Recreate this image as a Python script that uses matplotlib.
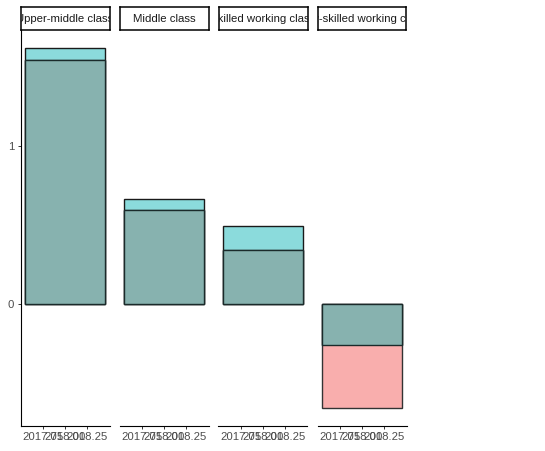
import matplotlib
matplotlib.use('Agg')
import matplotlib.pyplot as plt
import numpy as np

classes = ['Upper-middle class', 'Middle class', 'Skilled working class',
           'Low-skilled working class']
year = 2018
teal_vals = [1.625, 0.665, 0.494, -0.26]
red_vals = [1.55, 0.595, 0.342, -0.658]
xticks = [2017.75, 2018.00, 2018.25]
xticklabels = ['2017.75', '2018.00', '2018.25']
yticks = [0, 1]

plt.rcParams['font.family'] = ['Liberation Sans', 'DejaVu Sans']

W, H = 545, 451
fig = plt.figure(figsize=(W / 100, H / 100), dpi=100)

allv = teal_vals + red_vals + [0]
ylo, yhi = min(allv), max(allv)
pad = 0.05 * (yhi - ylo)

for i, name in enumerate(classes):
    left = 20.5 + 99 * i
    ax = fig.add_axes([left / W, (H - 425.5) / H, 89 / W, 395.5 / H])
    t, r = teal_vals[i], red_vals[i]
    if np.sign(t) == np.sign(r):
        ov = np.sign(t) * min(abs(t), abs(r))
    else:
        ov = 0
    ax.bar(year, t, width=0.9, color='#8BDBDC', edgecolor='#1a1a1a', lw=1.0)
    ax.bar(year, r, width=0.9, color='#F9AEAD', edgecolor='#333333', lw=1.0)
    ax.bar(year, ov, width=0.9, color='#87B2AF', edgecolor='#1a2a2a', lw=1.0)

    ax.set_xlim(year - 0.495, year + 0.495)
    ax.set_ylim(ylo - pad, yhi + pad)
    ax.set_xticks(xticks)
    ax.set_xticklabels(xticklabels)
    ax.tick_params(axis='x', length=2.5, width=0.7, color='#333333',
                   labelcolor='#4D4D4D', labelsize=8.2, pad=2)
    for s in ['top', 'right']:
        ax.spines[s].set_visible(False)
    ax.spines['bottom'].set_linewidth(0.8)
    if i == 0:
        ax.set_yticks(yticks)
        ax.set_yticklabels([str(v) for v in yticks])
        ax.tick_params(axis='y', length=2.5, width=0.7, color='#333333',
                       labelcolor='#4D4D4D', labelsize=8.2, pad=2)
        ax.spines['left'].set_linewidth(0.8)
    else:
        ax.set_yticks([])
        ax.spines['left'].set_visible(False)

    sax = fig.add_axes([left / W, (H - 30) / H, 89 / W, 23 / H])
    sax.set_xticks([])
    sax.set_yticks([])
    for s in sax.spines.values():
        s.set_linewidth(1.1)
        s.set_color('black')
    txt = sax.text(0.5, 0.5, name, ha='center', va='center', fontsize=8.2,
                   color='#1A1A1A', transform=sax.transAxes)
    txt.set_clip_on(True)

fig.savefig('out.png', dpi=100)
